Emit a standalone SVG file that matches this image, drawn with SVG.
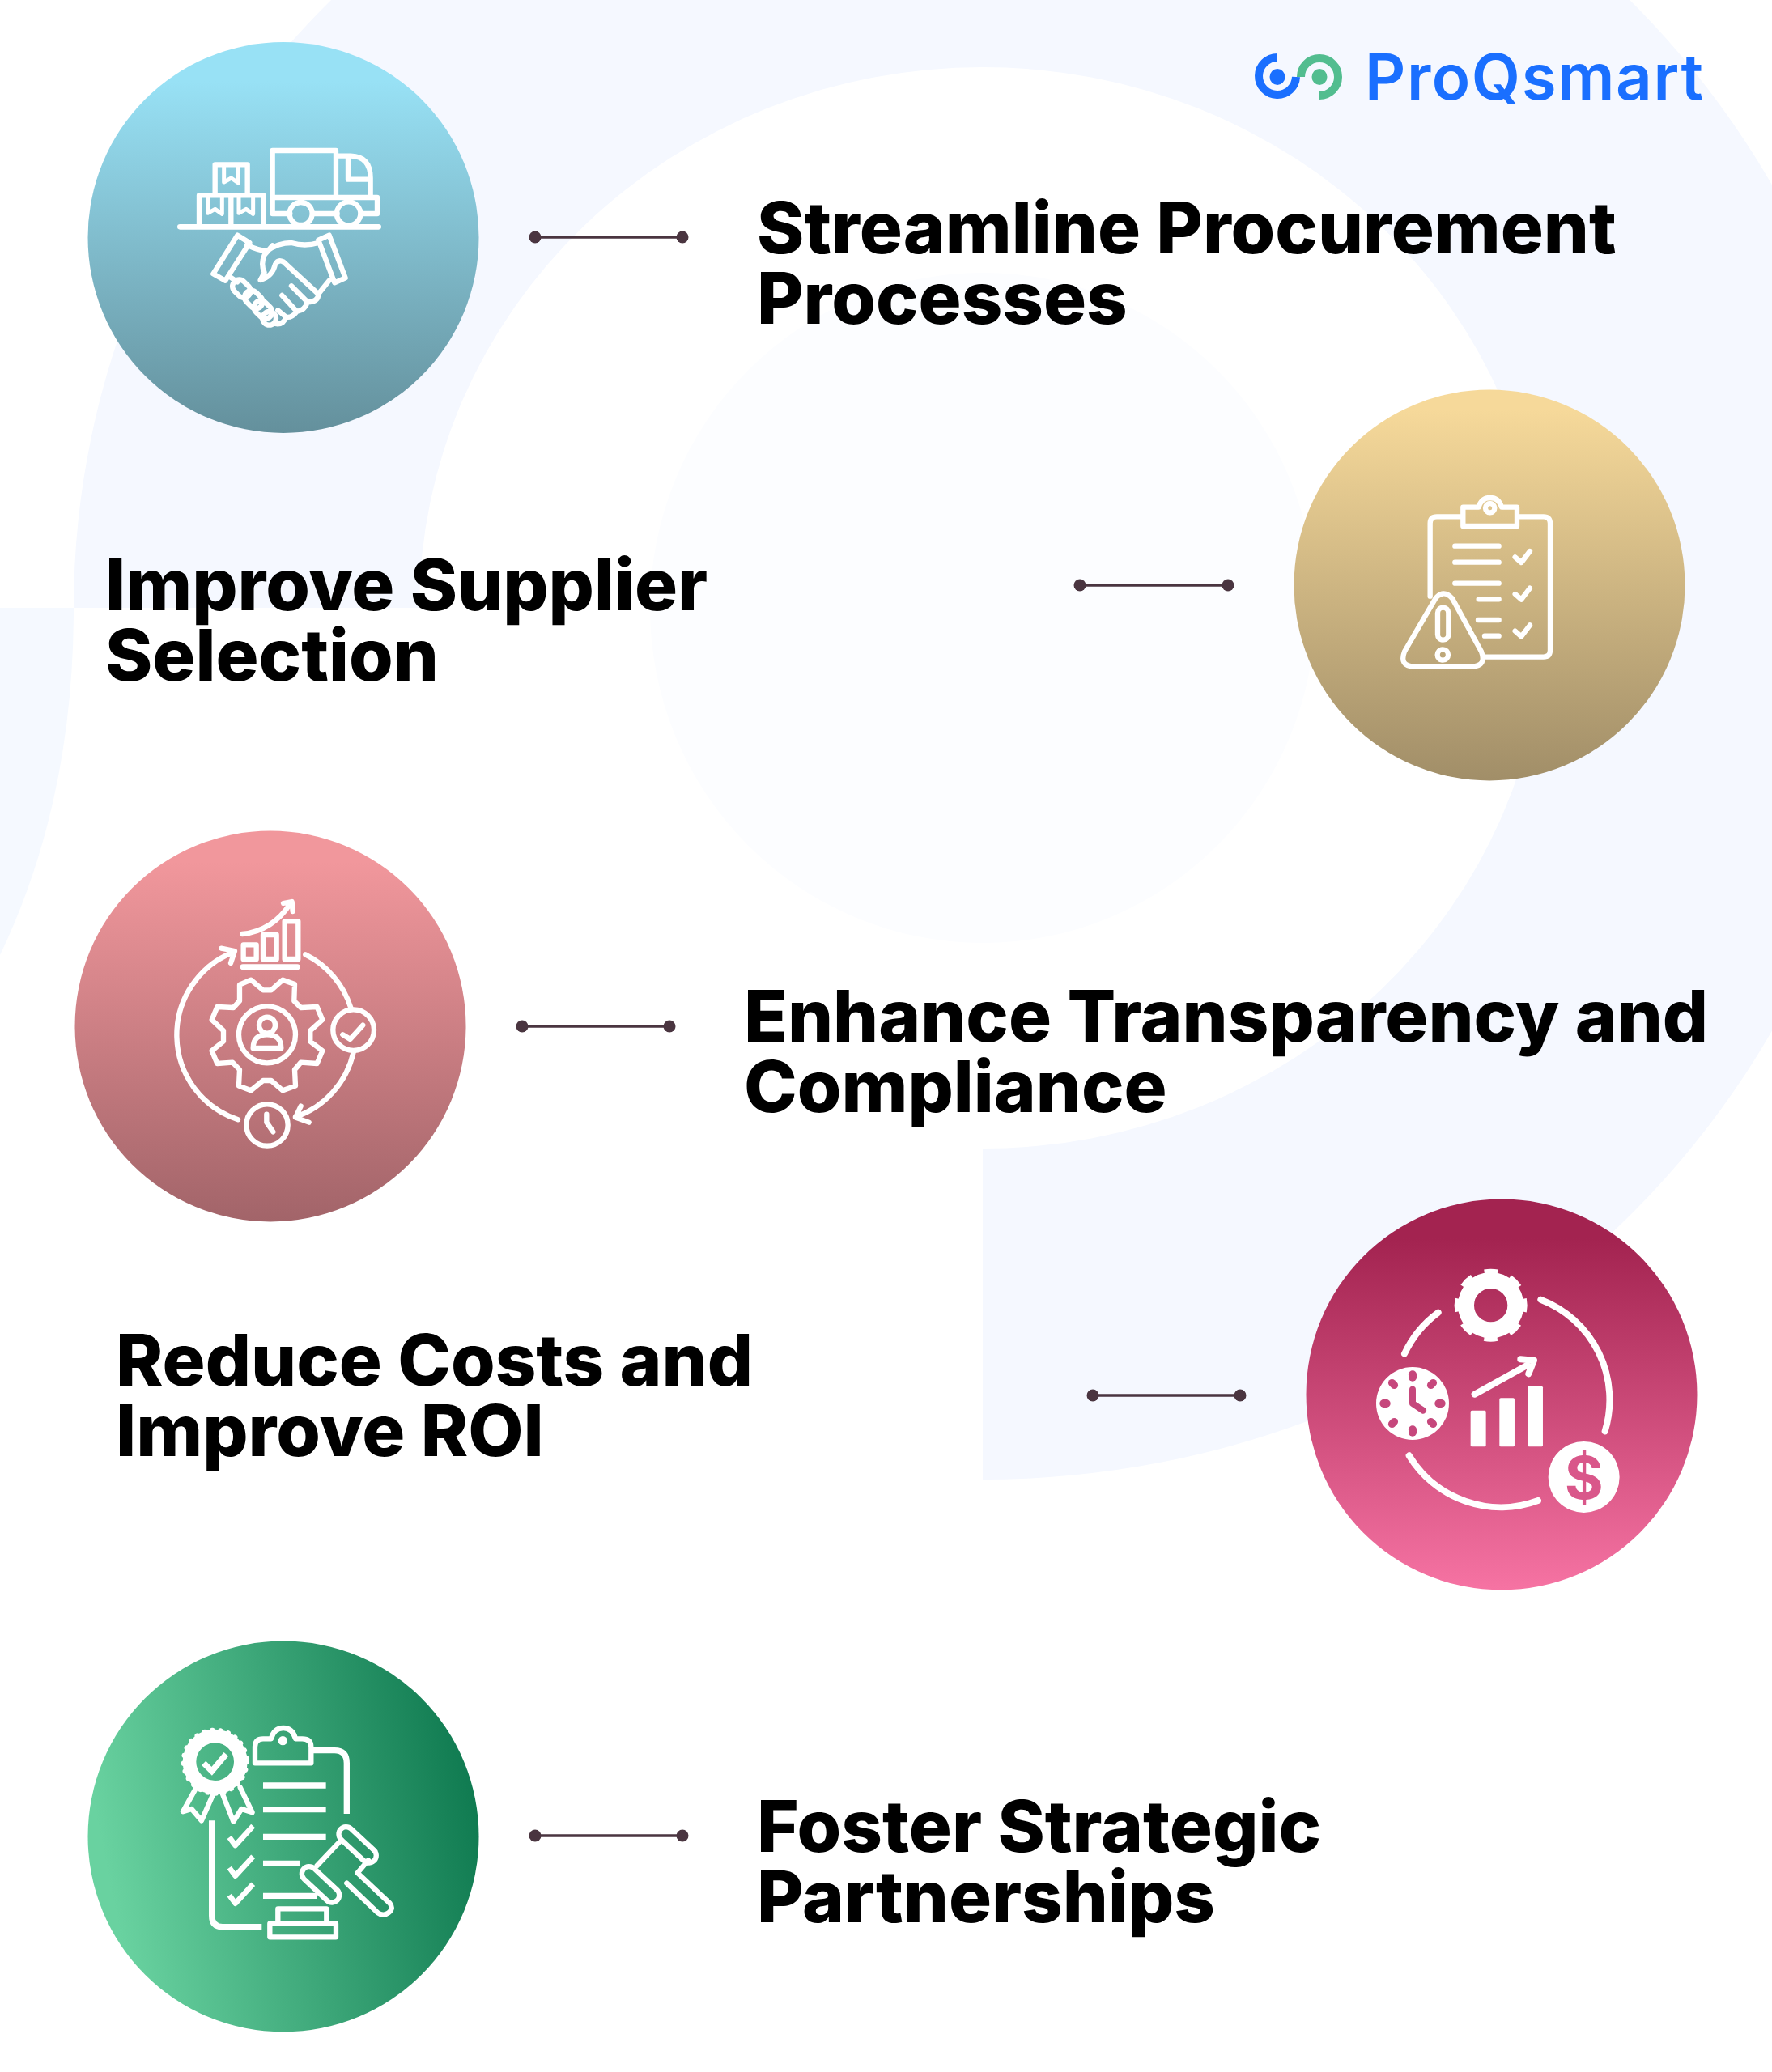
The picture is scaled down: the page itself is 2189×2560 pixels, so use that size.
<svg xmlns="http://www.w3.org/2000/svg" width="2189" height="2560" viewBox="0 0 2189 2560">
<style>
.t{font-family:Inter,"Liberation Sans",sans-serif;font-weight:800;font-size:88.400px;fill:#000}
.i{fill:none;stroke:#fff;stroke-width:19;stroke-linecap:round;stroke-linejoin:round}
.f{fill:#fff;stroke:none}
.c line{stroke:#4a3540;stroke-width:3.5}
.c circle{fill:#4a3540}
</style>
<defs>
<linearGradient id="g1" x1="0" y1="0" x2="0" y2="1"><stop offset=".1" stop-color="#98e1f5"/><stop offset="1" stop-color="#64909c"/></linearGradient>
<linearGradient id="g2" x1="0" y1="0" x2="0" y2="1"><stop offset=".05" stop-color="#f6d99a"/><stop offset="1" stop-color="#a18e68"/></linearGradient>
<linearGradient id="g3" x1="0" y1="0" x2="0" y2="1"><stop offset=".08" stop-color="#f1979c"/><stop offset="1" stop-color="#a26469"/></linearGradient>
<linearGradient id="g4" x1="0" y1="0" x2="0" y2="1"><stop offset=".1" stop-color="#a32350"/><stop offset="1" stop-color="#f673a3"/></linearGradient>
<linearGradient id="g5" x1="0" y1=".6" x2="1" y2=".4"><stop offset=".05" stop-color="#69d2a0"/><stop offset="1" stop-color="#0f7a50"/></linearGradient>
</defs>
<rect width="2189" height="2560" fill="#fff"/>
<g id="background">
<path fill="#f5f8ff" d="M91 751A1123 1077 0 0 1 1214 -326A1115 1077 0 0 1 2329 751A1115 1077 0 0 1 1214 1828V1419A695 668 0 0 0 1909 751A695 668 0 0 0 1214 83A696 668 0 0 0 518 751Z"/>
<path fill="#f5f9ff" d="M0 751H91Q91 990 0 1180Z"/>
<ellipse cx="1214" cy="751" rx="411" ry="414" fill="#fcfdff"/>
</g>
<g id="logo">
<path d="M1578 71A23 23 0 1 0 1601 95" fill="none" stroke="#1a6fff" stroke-width="10"/>
<ellipse cx="1578" cy="95" rx="9.500" ry="10" fill="#1a6fff"/>
<path d="M1607 95A23 23 0 1 1 1630 118" fill="none" stroke="#52bd8f" stroke-width="10"/>
<ellipse cx="1630" cy="95" rx="9.500" ry="10" fill="#52bd8f"/>
<text x="1686" y="123" font-family="Inter,'Liberation Sans',sans-serif" font-weight="600" font-size="78" letter-spacing="1.600" fill="#1a6fff">ProQsmart</text>
</g>
<g id="connectors" class="c">
<line x1="661" y1="293" x2="843" y2="293"/><circle cx="661" cy="293" r="7.500"/><circle cx="843" cy="293" r="7.500"/>
<line x1="1334" y1="723" x2="1517" y2="723"/><circle cx="1334" cy="723" r="7.500"/><circle cx="1517" cy="723" r="7.500"/>
<line x1="645" y1="1268" x2="827" y2="1268"/><circle cx="645" cy="1268" r="7.500"/><circle cx="827" cy="1268" r="7.500"/>
<line x1="1350" y1="1724" x2="1532" y2="1724"/><circle cx="1350" cy="1724" r="7.500"/><circle cx="1532" cy="1724" r="7.500"/>
<line x1="661" y1="2268" x2="843" y2="2268"/><circle cx="661" cy="2268" r="7.500"/><circle cx="843" cy="2268" r="7.500"/>
</g>
<g id="node-1">
<circle cx="350" cy="293.500" r="241.500" fill="url(#g1)"/>
<g class="i" transform="translate(180 140) scale(.3333)">
<path d="M127 421H863" stroke-width="20"/>
<path d="M257 300V190H377V300M198 415V304H436V415M316 304V415"/>
<path d="M290 195V255L317 240L343 258V195M230 310V370L257 355L283 373V310M345 310V370L372 355L398 373V310" stroke-width="15"/>
<path d="M470 312V138H705V312M705 158H760Q833 160 833 240V312M750 165V245H833M470 312H858V372H800M470 312V372H535M620 372H710"/>
<circle cx="575" cy="372" r="42"/><circle cx="752" cy="372" r="44"/>
<path d="M340 452L385 480L295 620L250 595ZM640 470L680 452L740 610L700 628Z"/>
<path d="M375 488Q420 510 450 510Q490 480 540 480Q590 495 640 480M470 490L440 525Q425 560 440 590L425 618Q470 605 480 560Q490 540 510 550L640 670Q640 700 600 700L540 640M600 700Q590 730 560 735L505 675M560 735Q540 760 520 755L490 730M520 755Q510 785 480 780M640 670L680 620M310 605L340 625"/>
<rect x="-25" y="-37" width="50" height="74" rx="25" transform="translate(355 650) rotate(-45)"/>
<rect x="-25" y="-37" width="50" height="74" rx="25" transform="translate(400 690) rotate(-45)"/>
<rect x="-25" y="-37" width="50" height="74" rx="25" transform="translate(435 728) rotate(-45)"/>
<circle cx="458" cy="760" r="25"/>
</g>
<text class="t" x="935" y="313">Streamline Procurement</text>
<text class="t" x="935" y="400">Processes</text>
</g>
<g id="node-2">
<circle cx="1840" cy="723" r="241.500" fill="url(#g2)"/>
<g class="i" transform="translate(1690 590) scale(.3333)">
<path d="M345 145H255Q230 145 230 170V440M555 145H650Q675 145 675 170V640Q675 665 650 665H430"/>
<path d="M352 110H410Q420 75 452 75Q485 75 495 110H552V180H352Z"/>
<circle cx="452" cy="113" r="17"/>
<path d="M322 254H485M322 314H485M322 392H485M410 451H485M408 528H485M432 587H485"/>
<path d="M545 295L568 315L600 273M545 432L568 452L600 410M545 569L568 589L600 547"/>
<path d="M250 448Q280 412 312 448L420 645Q440 700 385 700H170Q115 700 135 645Z"/>
<rect x="258" y="482" width="40" height="120" rx="20"/>
<circle cx="277" cy="657" r="20"/>
</g>
<text class="t" x="130" y="754">Improve Supplier</text>
<text class="t" x="130" y="841">Selection</text>
</g>
<g id="node-3">
<circle cx="334" cy="1268" r="241.500" fill="url(#g3)"/>
<g class="i" transform="translate(190 1090) scale(.3333)">
<path d="M328 192Q440 180 505 80M480 78L512 72L515 108"/>
<path d="M332 232H380V285H332ZM405 195H455V285H405ZM485 145H535V285H485Z"/>
<path d="M330 314H532" stroke-width="20"/>
<path d="M312 880A330 330 0 0 1 298 258M250 245L300 255L285 300M562 268A330 330 0 0 1 730 465M740 630A330 330 0 0 1 525 870M575 890L525 872L545 830"/>
<circle cx="740" cy="548" r="76"/>
<path d="M700 565L728 582L775 530"/>
<circle cx="420" cy="900" r="77"/>
<path d="M418 860V890L442 925"/>
<path d="M360 362L405 400H435L478 362L522 378L520 440L545 465L605 462L625 510L580 550V590L625 625L605 672L545 668L522 695L525 755L478 772L435 735H405L360 772L315 755L318 695L292 668L235 672L215 625L258 590V550L215 510L235 462L295 465L318 440L318 380Z"/>
<circle cx="420" cy="565" r="105"/>
<circle cx="420" cy="530" r="30"/>
<path d="M368 615Q368 565 420 565Q472 565 472 615Z"/>
</g>
<text class="t" x="919" y="1287">Enhance Transparency and</text>
<text class="t" x="919" y="1374">Compliance</text>
</g>
<g id="node-4">
<circle cx="1855" cy="1723" r="241.500" fill="url(#g4)"/>
<g transform="translate(1670 1540) scale(.3333)">
<g fill="none" stroke="#fff">
<circle cx="515" cy="218" r="92" stroke-width="60"/>
<circle cx="515" cy="218" r="122" stroke-width="26" stroke-dasharray="47.900 47.900" transform="rotate(-11.250 515 218)"/>
<path d="M700 197A398 398 0 0 1 938 685M320 245A398 398 0 0 0 195 398M212 775A398 398 0 0 0 690 942" stroke-width="24" stroke-linecap="round"/>
<path d="M455 548L650 440" stroke-width="24" stroke-linecap="round"/>
<path d="M625 418L675 422L655 472" stroke-width="24" stroke-linecap="round" stroke-linejoin="round"/>
</g>
<circle class="f" cx="225" cy="582" r="135"/>
<g fill="#c6477c">
<rect x="210" y="460" width="30" height="40" rx="15"/><rect x="210" y="664" width="30" height="40" rx="15"/>
<rect x="103" y="567" width="40" height="30" rx="15"/><rect x="307" y="567" width="40" height="30" rx="15"/>
<rect x="-20" y="-14" width="40" height="28" rx="14" transform="translate(153 510) rotate(45)"/>
<rect x="-20" y="-14" width="40" height="28" rx="14" transform="translate(297 510) rotate(-45)"/>
<rect x="-20" y="-14" width="40" height="28" rx="14" transform="translate(153 654) rotate(-45)"/>
<rect x="-20" y="-14" width="40" height="28" rx="14" transform="translate(297 654) rotate(45)"/>
</g>
<path d="M225 530V582L264 608" fill="none" stroke="#c6477c" stroke-width="24" stroke-linecap="round" stroke-linejoin="round"/>
<rect class="f" x="440" y="608" width="57" height="134" rx="5"/>
<rect class="f" x="547" y="562" width="56" height="180" rx="5"/>
<rect class="f" x="652" y="518" width="56" height="224" rx="5"/>
<circle class="f" cx="860" cy="855" r="132"/>
<text x="860" y="935" text-anchor="middle" font-family="Inter,'Liberation Sans',sans-serif" font-weight="700" font-size="220" fill="#d9578a">$</text>
</g>
<text class="t" x="143" y="1711.500">Reduce Costs and</text>
<text class="t" x="143" y="1798.500">Improve ROI</text>
</g>
<g id="node-5">
<circle cx="350" cy="2269" r="241.500" fill="url(#g5)"/>
<g class="i" transform="translate(200 2110) scale(.3333)">
<circle cx="197" cy="200" r="95" stroke-width="50"/>
<circle cx="197" cy="200" r="117" stroke-width="18" stroke-dasharray="1 29"/>
<path d="M155 205L185 235L238 172" stroke-width="22" stroke-linecap="butt" stroke-linejoin="miter"/>
<path d="M125 300L78 385L110 375L147 418L190 320M225 320L265 422L295 375L335 388L290 295"/>
<path d="M345 205V145Q345 115 375 115H405Q415 75 450 75Q485 75 495 115H520Q553 115 553 145V205Z"/>
<circle class="f" cx="448" cy="122" r="17"/>
<path d="M555 158H640Q685 158 685 205V393M185 418V770Q185 812 225 812H370" stroke-width="22" stroke-linecap="butt"/>
<path d="M375 288H608M375 377H608M375 478H608M375 577H510M375 697H575" stroke-width="22" stroke-linecap="butt"/>
<path d="M250 480L272 510L338 438M250 593L272 623L338 551M250 695L272 725L338 653" stroke-width="20" stroke-linecap="butt"/>
<rect x="-85" y="-27" width="170" height="54" rx="27" transform="translate(725 508) rotate(43)"/>
<rect x="-85" y="-27" width="170" height="54" rx="27" transform="translate(588 655) rotate(43)"/>
<path d="M665 490L575 585M725 612L845 725Q860 745 840 760Q820 775 800 760L685 650M765 565L725 612"/>
<path d="M400 800H645V850H400ZM430 795V745H610V795"/>
</g>
<text class="t" x="935" y="2288">Foster Strategic</text>
<text class="t" x="935" y="2375">Partnerships</text>
</g>
</svg>
